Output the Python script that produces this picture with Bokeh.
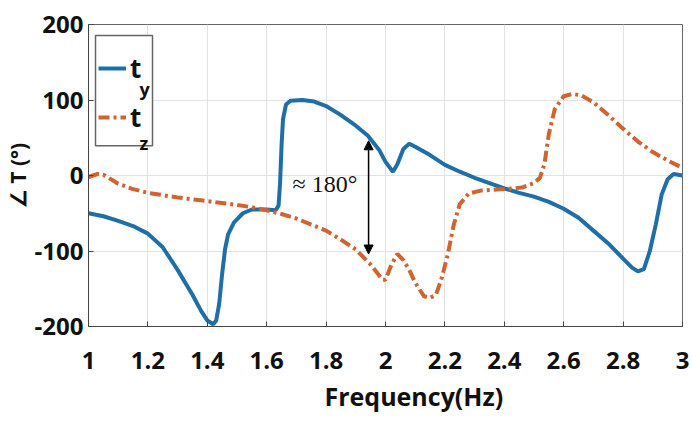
from bokeh.plotting import figure
from bokeh.models import (Range1d, FixedTicker, Legend, LegendItem, Label, Arrow,
                          NormalHead, BoxAnnotation, Title)
from bokeh.embed import file_html
from bokeh.resources import INLINE

# ---- data ----
freq_y = [1.00, 1.05, 1.10, 1.15, 1.20, 1.25, 1.30, 1.35, 1.38, 1.40, 1.42, 1.43, 1.44,
          1.45, 1.46, 1.47, 1.49, 1.52, 1.55, 1.60, 1.63, 1.64, 1.645, 1.65, 1.655, 1.665,
          1.68, 1.72, 1.76, 1.80, 1.85, 1.90, 1.94, 1.98, 2.00, 2.025, 2.04, 2.06, 2.08,
          2.10, 2.15, 2.20, 2.25, 2.30, 2.35, 2.40, 2.45, 2.50, 2.55, 2.60, 2.65, 2.70,
          2.75, 2.80, 2.83, 2.85, 2.87, 2.89, 2.91, 2.93, 2.95, 2.97, 3.00]
ty = [-50, -54, -60, -67, -77, -95, -125, -158, -180, -192, -197, -192, -170,
      -130, -97, -78, -62, -50, -45, -45, -46, -40, -10, 40, 75, 94,
      99, 100, 98, 92, 80, 66, 53, 33, 18, 5, 15, 35, 42,
      38, 27, 14, 5, -3, -10, -17, -23, -28, -35, -44, -56, -73,
      -90, -110, -122, -127, -124, -100, -65, -25, -5, 2, 0]

freq_z = [1.00, 1.03, 1.05, 1.08, 1.10, 1.15, 1.20, 1.30, 1.40, 1.50, 1.55, 1.60, 1.65,
          1.70, 1.75, 1.80, 1.85, 1.90, 1.95, 1.99, 2.00, 2.02, 2.04, 2.06, 2.08, 2.10,
          2.13, 2.15, 2.17, 2.19, 2.21, 2.23, 2.25, 2.28, 2.32, 2.40, 2.46, 2.50, 2.52,
          2.535, 2.55, 2.57, 2.60, 2.63, 2.66, 2.70, 2.75, 2.80, 2.85, 2.90, 2.95, 3.00]
tz = [-2, 2, 1, -6, -11, -18, -23, -29, -34, -39, -42, -46, -51,
      -57, -65, -73, -85, -98, -118, -138, -138, -118, -104, -112, -125, -142,
      -160, -162, -158, -135, -104, -65, -38, -24, -20, -18, -16, -10, -3,
      15, 55, 88, 105, 108, 106, 97, 80, 62, 45, 31, 20, 10]

x_ticks = [1, 1.2, 1.4, 1.6, 1.8, 2, 2.2, 2.4, 2.6, 2.8, 3]
x_tick_labels = ["1", "1.2", "1.4", "1.6", "1.8", "2", "2.2", "2.4", "2.6", "2.8", "3"]
y_ticks = [-200, -100, 0, 100, 200]
y_tick_labels = ["-200", "-100", "0", "100", "200"]

series_labels = ["t", "t"]
series_subs = ["y", "z"]
annotation_text = "≈ 180°"
x_label = "Frequency(Hz)"
y_label = "∠ T (°)"

BLUE = "#1f6fa6"
ORANGE = "#cf6430"
FONT = "Open Sans"

p = figure(width=692, height=427, output_backend="svg", toolbar_location=None,
           x_range=Range1d(1, 3), y_range=Range1d(-200, 200),
           min_border_left=88, min_border_right=10, min_border_top=24,
           min_border_bottom=101)
p.background_fill_color = "white"
p.border_fill_color = "white"
p.outline_line_color = "#666666"
p.outline_line_width = 1

for ax in (p.xaxis[0], p.yaxis[0]):
    ax.major_label_text_font = FONT
    ax.major_label_text_font_style = "bold"
    ax.major_label_text_font_size = "24px"
    ax.major_label_text_color = "#111111"
    ax.major_tick_in = 5
    ax.major_tick_out = 0
    ax.minor_tick_in = 0
    ax.minor_tick_out = 0
    ax.axis_line_color = "#444444"
    ax.major_tick_line_color = "#444444"

p.xaxis.ticker = FixedTicker(ticks=x_ticks)
p.xaxis.major_label_overrides = {t: l for t, l in zip(x_ticks, x_tick_labels)}
p.xaxis.major_label_standoff = 25
p.yaxis.ticker = FixedTicker(ticks=y_ticks)
p.yaxis.major_label_overrides = {t: l for t, l in zip(y_ticks, y_tick_labels)}
p.yaxis.major_label_standoff = 5
p.yaxis.axis_label = y_label
p.yaxis.axis_label_text_font = FONT
p.yaxis.axis_label_text_font_style = "bold"
p.yaxis.axis_label_text_font_size = "21px"
p.yaxis.axis_label_text_color = "#111111"
p.yaxis.axis_label_standoff = 0

p.grid.grid_line_color = "#e2e2e2"
p.grid.grid_line_width = 1

r1 = p.line(freq_y, ty, line_color=BLUE, line_width=4)
r2 = p.line(freq_z, tz, line_color=ORANGE, line_width=4, line_dash="11 4 3 4")

# legend frame
box = BoxAnnotation(left=1.0236, right=1.2155, top=185.4, bottom=39.4,
                    fill_color="white", fill_alpha=1.0,
                    line_color="#666666", line_alpha=1.0, line_width=1.5)
p.add_layout(box)

legend = Legend(items=[LegendItem(label=series_labels[0], renderers=[r1]),
                       LegendItem(label=series_labels[1], renderers=[r2])],
                location=(0, 179), padding=10, spacing=9,
                glyph_width=28, glyph_height=40, label_height=40,
                label_standoff=4, label_width=18,
                label_text_font=FONT, label_text_font_style="bold",
                label_text_font_size="26px", label_text_color="#111111",
                border_line_alpha=0, background_fill_alpha=0)
p.add_layout(legend)

for sub, yv in zip(series_subs, [115.0, 43.4]):
    p.add_layout(Label(x=1.1717, y=yv, text=sub, text_font=FONT,
                       text_font_style="bold", text_font_size="18px",
                       text_color="#111111", text_baseline="alphabetic"))

# annotation
p.add_layout(Arrow(x_start=1.943, y_start=-104, x_end=1.943, y_end=46,
                   line_color="black", line_width=1.5,
                   start=NormalHead(size=9, fill_color="black", line_color="black"),
                   end=NormalHead(size=9, fill_color="black", line_color="black")))
p.add_layout(Label(x=1.687, y=-11, text=annotation_text,
                   text_font="Liberation Serif", text_font_size="24px",
                   text_color="#111111", text_baseline="middle"))

# x axis label as a title below the axis
p.add_layout(Title(text=x_label, align="left", offset=236,
                   text_font=FONT, text_font_style="bold",
                   text_font_size="25px", text_color="#111111", standoff=10),
             "below")

open("out.html", "w").write(file_html(p, INLINE))
